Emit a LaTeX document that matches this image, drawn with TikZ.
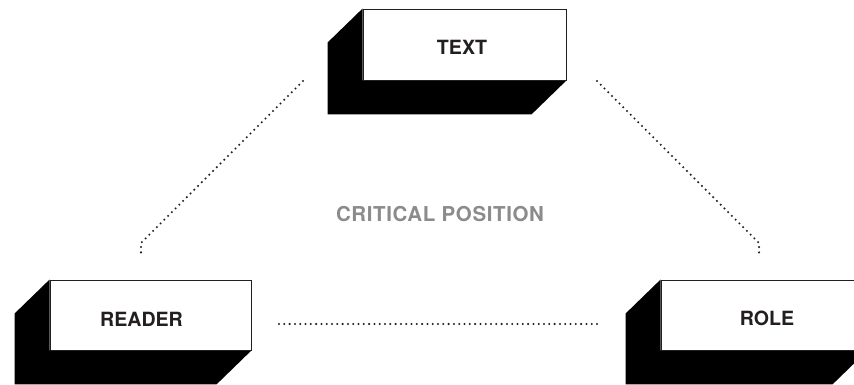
\documentclass[tikz,border=0pt]{standalone}
\usepackage{fontspec}
\setmainfont{TeX Gyre Heros}
\usetikzlibrary{calc,backgrounds}
\definecolor{ink}{HTML}{231F20}
\definecolor{graytxt}{HTML}{8B8B8D}
\begin{document}
\begin{tikzpicture}[x=1pt,y=-1pt,
  front/.style={draw=ink, line width=0.9pt, fill=white, inner sep=0pt},
  depthface/.style={fill=black},
  lbl/.style={font=\fontsize{19.6}{20}\selectfont\bfseries, text=ink, inner sep=0pt},
  midlbl/.style={font=\fontsize{20.5}{21}\selectfont\bfseries\addfontfeature{LetterSpace=3}, text=graytxt, inner sep=0pt},
  dotline/.style={draw=ink, line width=2.3pt, line cap=round, dash pattern=on 0pt off 5.3pt}]
\useasboundingbox (0,0) rectangle (854,385);

% front faces
\node[front, minimum width=203pt, minimum height=71pt] (textbox) at (464.5,44.5) {};
\node[front, minimum width=201pt, minimum height=70pt] (readerbox) at (150.5,315) {};
\node[front, minimum width=206pt, minimum height=70pt] (rolebox) at (764,315) {};

% extruded black faces
\begin{scope}[on background layer]
  \foreach \b in {textbox,readerbox,rolebox}{
    \fill[depthface] (\b.north west) -- ++(-35,34) |- ($(\b.south east)+(-35,34)$)
      -- (\b.south east) -- (\b.south west) -- cycle;
  }
\end{scope}

% labels
\node[lbl] (textlbl) at (462,47) {TEXT};
\node[lbl] (readerlbl) at (141.5,319) {READER};
\node[lbl] (rolelbl) at (767,318.5) {ROLE};
\node[midlbl] (critical) at (440,214) {CRITICAL POSITION};

% dotted connectors
\coordinate (lt) at (303,81);
\coordinate (lb) at (141,243);
\coordinate (le) at (141,254);
\coordinate (rt) at (597,81);
\coordinate (rb) at (759,243);
\coordinate (re) at (759,254);
\coordinate (hl) at (279,324);
\coordinate (hr) at (601,324);
\draw[dotline] (lt) -- (lb) -- (le);
\draw[dotline] (rt) -- (rb) -- (re);
\draw[dotline] (hl) -- (hr);
\end{tikzpicture}
\end{document}
